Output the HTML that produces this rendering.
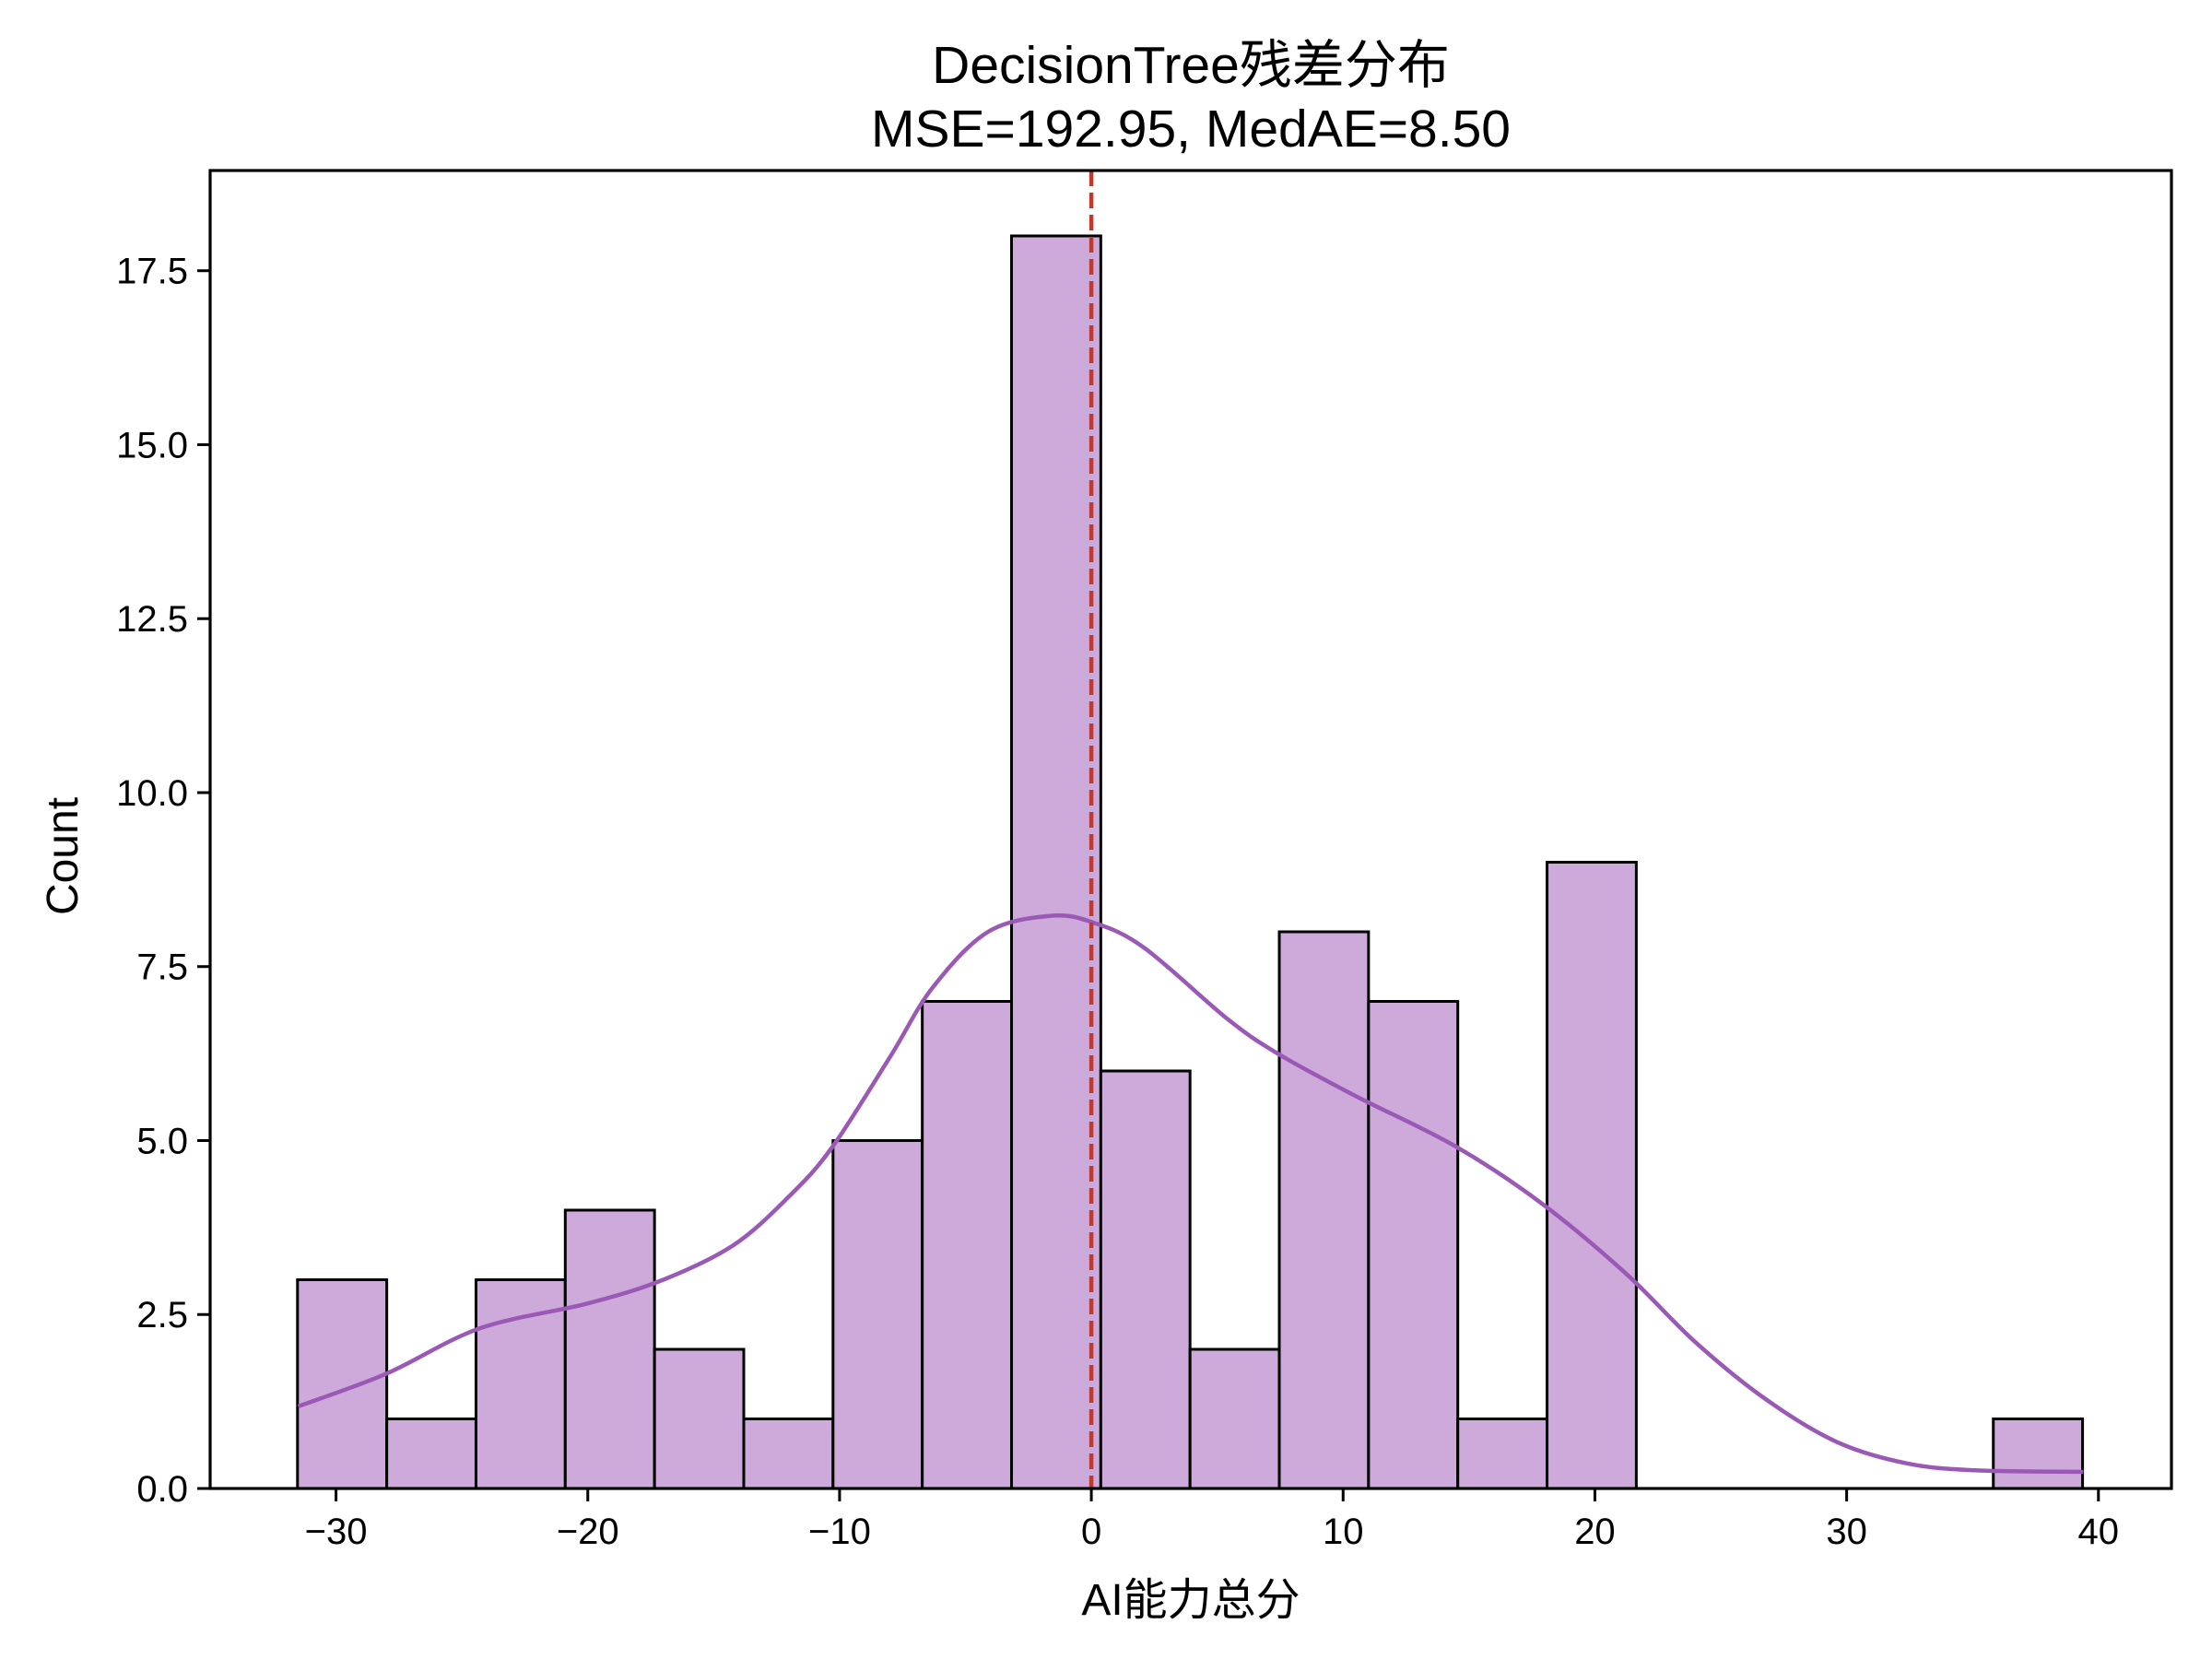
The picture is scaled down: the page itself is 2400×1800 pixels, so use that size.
<!DOCTYPE html>
<html><head><meta charset="utf-8"><style>
html,body{margin:0;padding:0;background:#fff;}
svg{display:block;}
text{font-family:"Liberation Sans","Noto Sans CJK SC",sans-serif;fill:#000;}
</style></head><body>
<svg id="chart" width="2400" height="1800" viewBox="0 0 2400 1800" xmlns="http://www.w3.org/2000/svg">
<rect width="2400" height="1800" fill="#fff"/>
<text x="1292" y="90" font-size="57" text-anchor="middle">DecisionTree残差分布</text>
<text x="1292" y="159" font-size="57" text-anchor="middle">MSE=192.95, MedAE=8.50</text>
<g id="bars"></g>
<g id="kde"></g>
<g id="ref"></g>
<g id="axes"></g>
<text x="1292" y="1752" font-size="48" text-anchor="middle">AI能力总分</text>
<text transform="translate(84,929) rotate(-90)" font-size="48" text-anchor="middle">Count</text>
</svg>
<script>
const binStart = -31.53;
const binWidth = 3.545;
const counts = [3,1,3,4,2,1,5,7,18,6,2,8,7,1,9,0,0,0,0,1];
const kdeX = [-31.5,-28,-24.3,-20,-17,-14.2,-12,-10.3,-8,-6.3,-4.1,-1.6,0.1,2.1,5.4,7.4,10.5,14.4,17.8,21.2,24,26.8,29.6,32.4,35.2,39.4];
const kdeY = [1.18,1.65,2.3,2.66,3.0,3.5,4.2,4.9,6.2,7.2,8.0,8.23,8.13,7.77,6.75,6.25,5.64,4.93,4.12,3.1,2.1,1.28,0.67,0.36,0.26,0.24];
const xTicks = [-30,-20,-10,0,10,20,30,40];
const yTicks = [0,2.5,5,7.5,10,12.5,15,17.5];
const refValue = 0;

const L=228,R=2356,T=185,B=1615;
const xMin=-35.0,xMax=42.9,yMin=0,yMax=18.94;
const sx=v=>L+(v-xMin)/(xMax-xMin)*(R-L);
const sy=v=>B-(v-yMin)/(yMax-yMin)*(B-T);
const NS="http://www.w3.org/2000/svg";
function mk(tag,attrs,parent){const e=document.createElementNS(NS,tag);for(const k in attrs)e.setAttribute(k,attrs[k]);parent.appendChild(e);return e;}

const bars=document.getElementById('bars');
counts.forEach((c,i)=>{
  if(c<=0)return;
  const x0=sx(binStart+i*binWidth),x1=sx(binStart+(i+1)*binWidth);
  const r=mk('rect',{x:x0,y:sy(c),width:x1-x0,height:sy(0)-sy(c),fill:'#cdaad9',stroke:'#000','stroke-width':3},bars);
  
  
});

const kde=document.getElementById('kde');
const pts=kdeX.map((x,i)=>[sx(x),sy(kdeY[i])]);
let d='M'+pts[0][0].toFixed(1)+' '+pts[0][1].toFixed(1);
for(let i=0;i<pts.length-1;i++){
  const p0=pts[Math.max(0,i-1)],p1=pts[i],p2=pts[i+1],p3=pts[Math.min(pts.length-1,i+2)];
  const c1=[p1[0]+(p2[0]-p0[0])/6,p1[1]+(p2[1]-p0[1])/6];
  const c2=[p2[0]-(p3[0]-p1[0])/6,p2[1]-(p3[1]-p1[1])/6];
  d+=' C'+c1[0].toFixed(1)+' '+c1[1].toFixed(1)+' '+c2[0].toFixed(1)+' '+c2[1].toFixed(1)+' '+p2[0].toFixed(1)+' '+p2[1].toFixed(1);
}
const p=mk('path',{d:d,fill:'none',stroke:'#9b59b6','stroke-width':4.5,'stroke-linejoin':'round'},kde);



const ref=document.getElementById('ref');
const rl=mk('line',{x1:sx(refValue),x2:sx(refValue),y1:T,y2:B,stroke:'#c0392b','stroke-width':4.5,'stroke-dasharray':'17 7'},ref);



const axes=document.getElementById('axes');
const frame=mk('rect',{x:L,y:T,width:R-L,height:B-T,fill:'none',stroke:'#000','stroke-width':3.2},axes);


xTicks.forEach(t=>{
  const x=sx(t);
  const tk=mk('line',{x1:x,x2:x,y1:B,y2:B+14,stroke:'#000','stroke-width':3},axes);
  
  
  const tx=mk('text',{x:x,y:B+60,'font-size':40,'text-anchor':'middle'},axes);
  tx.textContent=(t<0?'\u2212'+Math.abs(t):String(t));
  
  
});
yTicks.forEach(t=>{
  const y=sy(t);
  const tk=mk('line',{x1:L-14,x2:L,y1:y,y2:y,stroke:'#000','stroke-width':3},axes);
  
  
  const tx=mk('text',{x:L-24,y:y+14,'font-size':40,'text-anchor':'end'},axes);
  tx.textContent=t.toFixed(1);
  
  
});
</script>
</body></html>
